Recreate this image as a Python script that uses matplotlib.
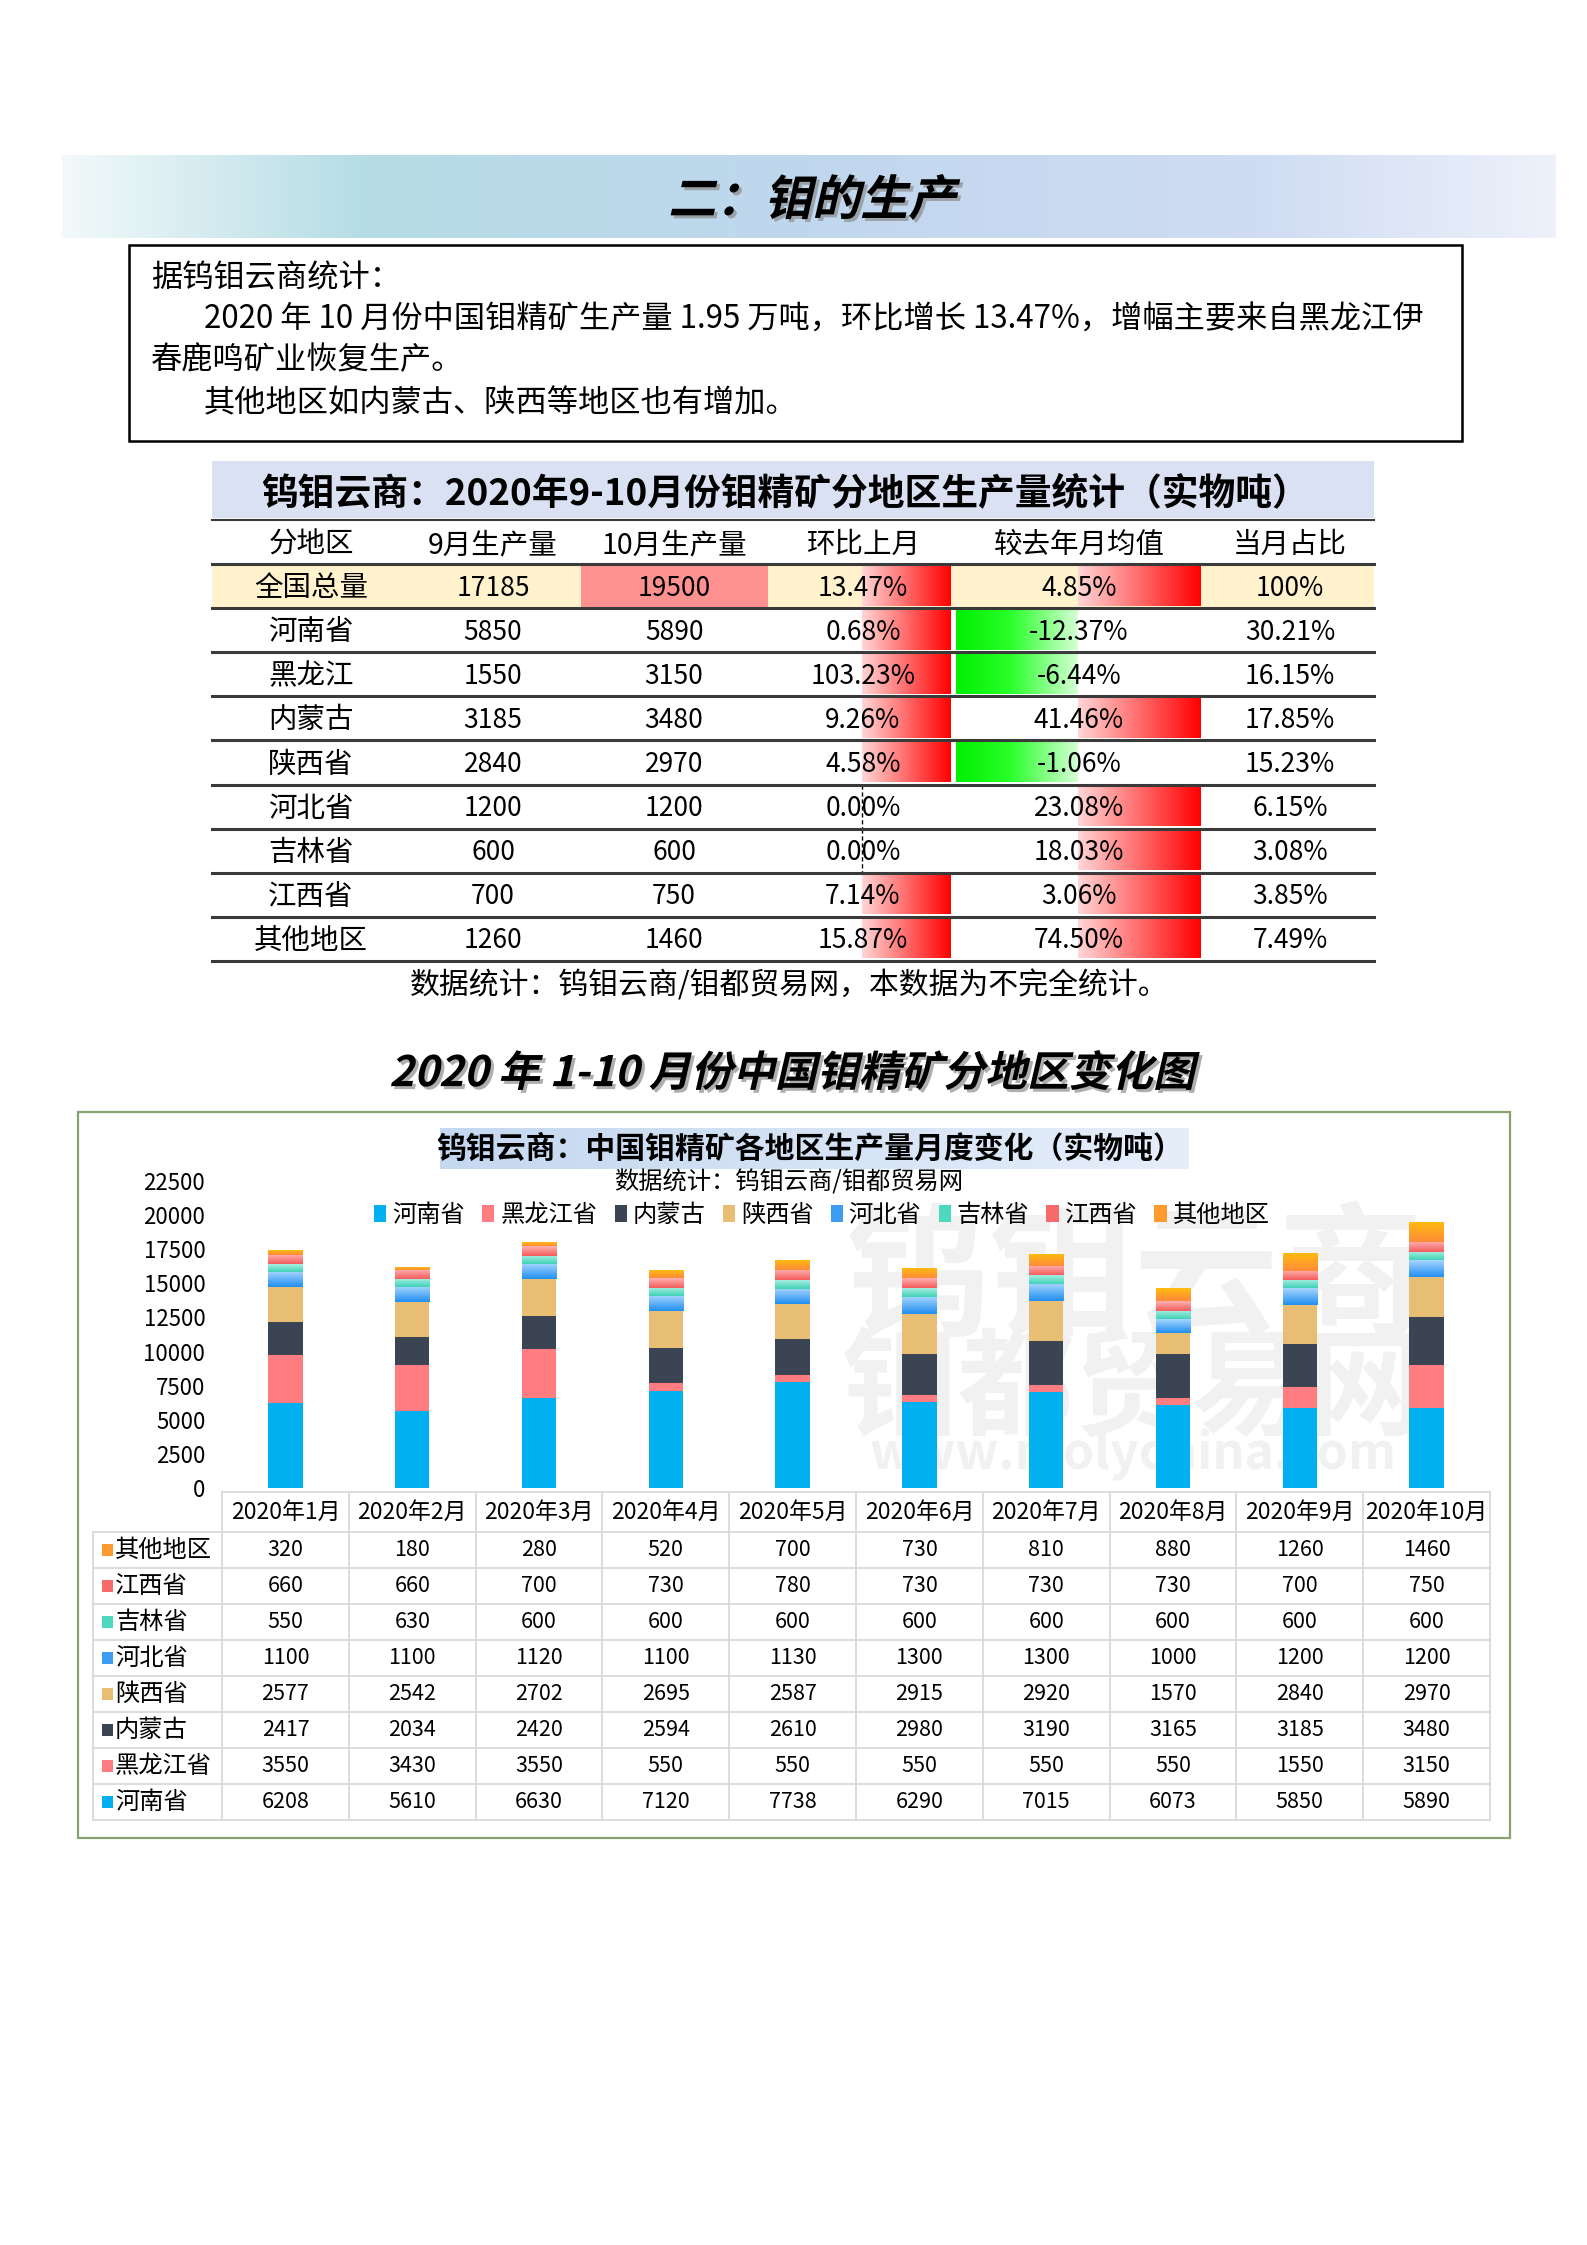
import numpy as np
import matplotlib
matplotlib.use('Agg')
import matplotlib.pyplot as plt
import matplotlib.transforms as mtransforms
from matplotlib.patches import Rectangle, PathPatch, Patch
from matplotlib.textpath import TextPath
from matplotlib.font_manager import FontProperties
from matplotlib.colors import to_rgb

plt.rcParams['font.family'] = ['Noto Sans CJK SC', 'DejaVu Sans']

# Table: Sep-Oct 2020 output by region (tonnes)
regions = ['全国总量', '河南省', '黑龙江', '内蒙古', '陕西省', '河北省', '吉林省', '江西省', '其他地区']
sep_output = [17185, 5850, 1550, 3185, 2840, 1200, 600, 700, 1260]
oct_output = [19500, 5890, 3150, 3480, 2970, 1200, 600, 750, 1460]
mom_pct = [13.47, 0.68, 103.23, 9.26, 4.58, 0.00, 0.00, 7.14, 15.87]
vs_avg_pct = [4.85, -12.37, -6.44, 41.46, -1.06, 23.08, 18.03, 3.06, 74.50]
share_pct = [100, 30.21, 16.15, 17.85, 15.23, 6.15, 3.08, 3.85, 7.49]
table_headers = ['分地区', '9月生产量', '10月生产量', '环比上月', '较去年月均值', '当月占比']

# Chart: monthly output by region, Jan-Oct 2020
months = ['2020年1月', '2020年2月', '2020年3月', '2020年4月', '2020年5月',
          '2020年6月', '2020年7月', '2020年8月', '2020年9月', '2020年10月']
series_names = ['河南省', '黑龙江省', '内蒙古', '陕西省', '河北省', '吉林省', '江西省', '其他地区']
henan = [6208, 5610, 6630, 7120, 7738, 6290, 7015, 6073, 5850, 5890]
heilongjiang = [3550, 3430, 3550, 550, 550, 550, 550, 550, 1550, 3150]
neimenggu = [2417, 2034, 2420, 2594, 2610, 2980, 3190, 3165, 3185, 3480]
shaanxi = [2577, 2542, 2702, 2695, 2587, 2915, 2920, 1570, 2840, 2970]
hebei = [1100, 1100, 1120, 1100, 1130, 1300, 1300, 1000, 1200, 1200]
jilin = [550, 630, 600, 600, 600, 600, 600, 600, 600, 600]
jiangxi = [660, 660, 700, 730, 780, 730, 730, 730, 700, 750]
others = [320, 180, 280, 520, 700, 730, 810, 880, 1260, 1460]
series = [henan, heilongjiang, neimenggu, shaanxi, hebei, jilin, jiangxi, others]

colors = ['#00b0f0', '#ff7c80', '#3b4453', '#e8bd74', '#3d9df2', '#4cd9bd', '#f66a6a', '#ff9a2e']
# bottom/top colours of the gradient filled segments (None = flat)
grads = [None, None, None, None,
         ('#1f8ff0', '#a9d6ff'), ('#3fd2b5', '#a8efe2'), ('#f45c5c', '#ffb2b2'), ('#ff8a3a', '#ffbb10')]


def gradient_img(stops, n=256):
    t = np.linspace(0, 1, n)
    pos = [s[0] for s in stops]
    cols = np.array([to_rgb(s[1]) for s in stops])
    return np.stack([np.interp(t, pos, cols[:, k]) for k in range(3)], axis=-1)


# horizontal gradient in the page axes (y grows downward)
def hgrad(ax, x0, x1, y0, y1, stops, zorder=1):
    img = gradient_img(stops)[None, :, :]
    ax.imshow(img, extent=[x0, x1, y1, y0], aspect='auto', zorder=zorder, interpolation='bilinear')


def slanted_title(ax, s, cx, cy, size, shadow='#8c8c8c'):
    fp = FontProperties(family='Noto Sans CJK SC', weight='bold')
    tp = TextPath((0, 0), s, size=size, prop=fp)
    bb = tp.get_extents()
    tr = (mtransforms.Affine2D().translate(-(bb.x0 + bb.x1) / 2, -(bb.y0 + bb.y1) / 2)
          .skew_deg(13, 0).scale(1, -1).translate(cx, cy))
    if shadow:
        ax.add_patch(PathPatch(tp, transform=tr + mtransforms.Affine2D().translate(3, 3) + ax.transData,
                               fc=shadow, ec='none', alpha=0.7, zorder=5))
    ax.add_patch(PathPatch(tp, transform=tr + ax.transData, fc='black', ec='none', zorder=6))


fig = plt.figure(figsize=(15.87, 22.45), dpi=100)
page = fig.add_axes([0, 0, 1, 1])
page.axis('off')

# ---- section banner
hgrad(page, 62, 1556, 155, 238, [(0, '#f2f9fa'), (0.2, '#b5dde5'), (0.5, '#c0d7ee'),
                                 (0.8, '#cfdcf3'), (1, '#edf1fa')])
slanted_title(page, '二：钼的生产', 816, 197, 48)

# ---- text box
page.add_patch(Rectangle((129, 245), 1333, 196, fill=False, ec='black', lw=1.8, zorder=3))
page.text(151, 278, '据钨钼云商统计：', fontsize=22.5, va='center')
page.text(204, 320, '2020 年 10 月份中国钼精矿生产量 1.95 万吨，环比增长 13.47%，增幅主要来自黑龙江伊',
          fontsize=22.5, va='center')
page.text(151, 360, '春鹿鸣矿业恢复生产。', fontsize=22.5, va='center')
page.text(204, 403, '其他地区如内蒙古、陕西等地区也有增加。', fontsize=22.5, va='center')

# ---- table 1
t_left, t_right = 212, 1374
col_x = [311, 493, 674, 863, 1079, 1290]
head_top, head_bot, row_h = 520, 564, 44.1
page.add_patch(Rectangle((t_left, 461), t_right - t_left, 57, fc='#d9e1f2', ec='none'))
page.text(785, 494, '钨钼云商：2020年9-10月份钼精矿分地区生产量统计（实物吨）',
          fontsize=26.5, fontweight='bold', ha='center', va='center')
for x, h in zip(col_x, table_headers):
    page.text(x, (head_top + head_bot) / 2 + 3, h, fontsize=20.5, ha='center', va='center')

page.add_patch(Rectangle((t_left, head_bot), t_right - t_left, row_h, fc='#fff2cc', ec='none', zorder=1))
page.add_patch(Rectangle((581, head_bot), 187, row_h, fc='#ff9191', ec='none', zorder=2))

mom_axis, mom_end = 862, 951
avg_axis, avg_pos_end, avg_neg_end = 1078, 1201, 956
for i in range(len(regions)):
    y0 = head_bot + i * row_h
    yc = y0 + row_h / 2 + 2
    ya, yb = y0 + 2.5, y0 + row_h - 2.5
    if mom_pct[i] > 0:
        hgrad(page, mom_axis, mom_end, ya, yb, [(0, '#ffd6d6'), (1, '#ff0000')], zorder=2)
    else:
        page.plot([mom_axis, mom_axis], [y0, y0 + row_h], color='black', lw=1, ls=(0, (3, 2)), zorder=3)
    if vs_avg_pct[i] > 0:
        hgrad(page, avg_axis, avg_pos_end, ya, yb, [(0, '#ffd6d6'), (1, '#ff0000')], zorder=2)
    elif vs_avg_pct[i] < 0:
        hgrad(page, avg_neg_end, avg_axis, ya, yb, [(0, '#00f000'), (0.45, '#2aff2a'), (1, '#d6ffd6')], zorder=2)
    share = '100%' if share_pct[i] == 100 else '%.2f%%' % share_pct[i]
    cells = [regions[i], str(sep_output[i]), str(oct_output[i]),
             '%.2f%%' % mom_pct[i], '%.2f%%' % vs_avg_pct[i], share]
    for j, (x, c) in enumerate(zip(col_x, cells)):
        page.text(x, yc, c, fontsize=20.5 if j == 0 else 19, ha='center', va='center', zorder=4)

for k in range(len(regions) + 1):
    y = head_bot + k * row_h
    page.plot([t_left, t_right], [y, y], color='#3a3a3a', lw=2.2, zorder=4)
page.plot([t_left, t_right], [head_top, head_top], color='#3a3a3a', lw=1.5, zorder=4)
page.text(789, 986, '数据统计：钨钼云商/钼都贸易网，本数据为不完全统计。', fontsize=21.5, ha='center', va='center')

# ---- chart section
slanted_title(page, '2020 年 1-10 月份中国钼精矿分地区变化图', 795, 1070, 42)
page.add_patch(Rectangle((78, 1112), 1432, 726, fill=False, ec='#86a36f', lw=1.6))

# watermark
wm = '#f1f1f1'
page.text(1135, 1282, '钨钼云商', fontsize=104, fontweight='bold', color=wm, ha='center', va='center', zorder=0)
page.text(1133, 1392, '钼都贸易网', fontsize=84, fontweight='bold', color=wm, ha='center', va='center', zorder=0)
page.text(1133, 1455, 'www.molychina.com', fontsize=36, fontweight='bold', color=wm, ha='center', va='center', zorder=0)

hgrad(page, 440, 1189, 1128, 1169, [(0, '#c4d8f0'), (0.5, '#d5e3f5'), (1, '#e6eefa')], zorder=1)
page.text(810, 1149, '钨钼云商：中国钼精矿各地区生产量月度变化（实物吨）', fontsize=21.5, fontweight='bold',
          ha='center', va='center', zorder=2)
page.text(789, 1183, '数据统计：钨钼云商/钼都贸易网', fontsize=17.5, ha='center', va='center')

# bar axes
p_left, p_right, p_top, p_bot = 222, 1490, 1181, 1488
W, H = 1587, 2245
ax = fig.add_axes([p_left / W, 1 - p_bot / H, (p_right - p_left) / W, (p_bot - p_top) / H])
ax.set_facecolor('none')
for sp in ax.spines.values():
    sp.set_visible(False)

x = np.arange(len(months))
bw = 0.27
bottom = np.zeros(len(months))
for name, vals, c, g in zip(series_names, series, colors, grads):
    bars = ax.bar(x, vals, bw, bottom=bottom, color=c, zorder=2, label=name)
    if g is not None:
        for b in bars:
            x0, y0 = b.get_x(), b.get_y()
            img = gradient_img([(0, g[0]), (1, g[1])])[:, None, :]
            ax.imshow(img, extent=[x0, x0 + b.get_width(), y0, y0 + b.get_height()], origin='lower',
                      aspect='auto', zorder=3, interpolation='bilinear')
    bottom += np.array(vals)

ax.set_xlim(-0.5, len(months) - 0.5)
ax.set_ylim(0, 22500)
ax.set_xticks([])
ax.set_yticks(np.arange(0, 22501, 2500))
ax.tick_params(axis='y', length=0, labelsize=16, pad=12)

handles = [Patch(fc=c, label=n) for n, c in zip(series_names, colors)]
fig.legend(handles=handles, loc='center', bbox_to_anchor=(822 / W, 1 - 1215 / H), ncol=8, frameon=False,
           fontsize=17.5, handlelength=0.5, handleheight=0.7, handletextpad=0.25, columnspacing=0.7)

# data table under the chart
col_w = (p_right - p_left) / len(months)
lab_left = 93
th_top, th_bot, tr_h = 1492, 1532, 36.0
grid = '#d9d9d9'
rows = list(zip(series_names, series, colors))[::-1]
page.plot([p_left, p_right], [th_top, th_top], color=grid, lw=1.3)
for k in range(len(rows) + 1):
    y = th_bot + k * tr_h
    page.plot([lab_left, p_right], [y, y], color=grid, lw=1.3)
for k in range(len(months) + 1):
    xx = p_left + k * col_w
    page.plot([xx, xx], [th_top, th_bot + len(rows) * tr_h], color=grid, lw=1.3)
page.plot([lab_left, lab_left], [th_bot, th_bot + len(rows) * tr_h], color=grid, lw=1.3)
for k, m in enumerate(months):
    page.text(p_left + (k + 0.5) * col_w, (th_top + th_bot) / 2, m, fontsize=16.5, ha='center', va='center')
for i, (name, vals, c) in enumerate(rows):
    yc = th_bot + (i + 0.5) * tr_h
    page.add_patch(Rectangle((102, yc - 6), 11, 12, fc=c, ec='none'))
    page.text(115, yc, name, fontsize=17.5, ha='left', va='center')
    for k, v in enumerate(vals):
        page.text(p_left + (k + 0.5) * col_w, yc, str(v), fontsize=15.5, ha='center', va='center')

page.set_xlim(0, W)
page.set_ylim(H, 0)

fig.savefig('out.png', dpi=100)
